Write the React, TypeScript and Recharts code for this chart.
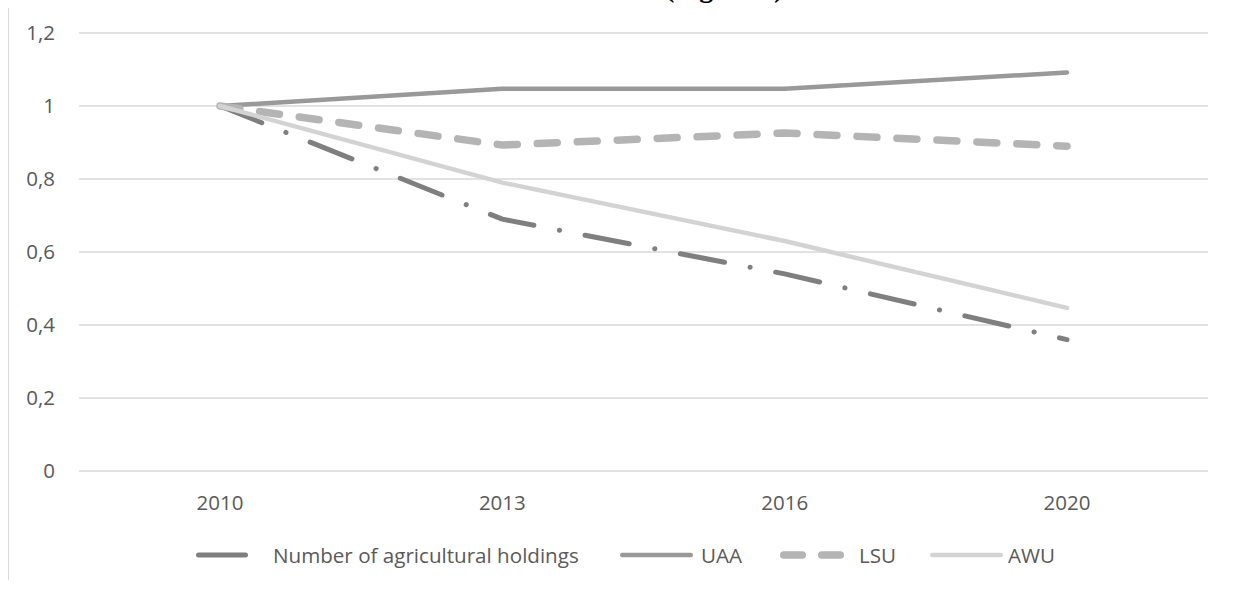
import React from 'react';
import { LineChart, Line, XAxis, YAxis, CartesianGrid, Legend } from 'recharts';

// Indices, 2010 = 1
const years = ['2010', '2013', '2016', '2020'];
const holdings = [1, 0.69, 0.54, 0.36];
const uaa = [1, 1.047, 1.047, 1.092];
const lsu = [1, 0.893, 0.926, 0.89];
const awu = [1, 0.79, 0.63, 0.447];
const yTicks = [0, 0.2, 0.4, 0.6, 0.8, 1, 1.2];

const data = years.map((year, i) => ({
  year,
  holdings: holdings[i],
  uaa: uaa[i],
  lsu: lsu[i],
  awu: awu[i],
}));

const FONT = '"Open Sans", Lato, sans-serif';
const TEXT = '#595959';

// line styles + where each legend entry sits (chart coords)
const SERIES = [
  { key: 'holdings', name: 'Number of agricultural holdings', color: '#7f7f7f', width: 5, dash: '45 26 0.1 26', iconDash: undefined, iconLeft: 187, iconLen: 52, textLeft: 264 },
  { key: 'uaa', name: 'UAA', color: '#999999', width: 4.5, dash: undefined, iconDash: undefined, iconLeft: 611, iconLen: 73, textLeft: 692 },
  { key: 'lsu', name: 'LSU', color: '#b4b4b4', width: 7.5, dash: '20 20', iconDash: '18.5 19.5', iconLeft: 771, iconLen: 65, textLeft: 850 },
  { key: 'awu', name: 'AWU', color: '#d3d3d3', width: 4.5, dash: undefined, iconDash: undefined, iconLeft: 921, iconLen: 73, textLeft: 999 },
];

const fmt = (v: number) => String(v).replace('.', ',');

const renderLegend = () => (
  <div style={{ position: 'relative', width: '100%', height: 28, fontFamily: FONT, fontSize: 20.6, color: TEXT }}>
    {SERIES.map((s) => (
      <React.Fragment key={s.key}>
        <svg
          width={s.iconLen}
          height={28}
          style={{ position: 'absolute', left: s.iconLeft, top: 0 }}
        >
          <line
            x1={s.width / 2}
            x2={s.iconLen - s.width / 2}
            y1={14}
            y2={14}
            stroke={s.color}
            strokeWidth={s.width}
            strokeLinecap="round"
            strokeDasharray={s.iconDash}
          />
        </svg>
        <span style={{ position: 'absolute', left: s.textLeft, top: 0, lineHeight: '28px', whiteSpace: 'nowrap' }}>
          {s.name}
        </span>
      </React.Fragment>
    ))}
  </div>
);

export default function App() {
  return (
    <>
      <div
        style={{
          position: 'absolute',
          left: 665,
          top: -26,
          fontFamily: '"Liberation Serif", serif',
          fontWeight: 'bold',
          fontSize: 28,
          lineHeight: 1,
          whiteSpace: 'nowrap',
          color: '#000',
        }}
      >
        (Figure 1)
      </div>
      <div style={{ position: 'relative', marginTop: -3, width: 1217, height: 575, overflow: 'hidden' }}>
        <div style={{ width: 1240, height: 600, borderTop: '1px solid #d9d9d9', borderLeft: '1px solid #d9d9d9', background: '#fff' }}>
          <LineChart width={1240} height={600} data={data} margin={{ top: 27, right: 41, left: 0, bottom: 105 }}>
            <CartesianGrid vertical={false} stroke="#d9d9d9" strokeWidth={1.5} />
            <XAxis
              dataKey="year"
              padding={{ left: 141, right: 141 }}
              axisLine={false}
              tickLine={false}
              tickSize={0}
              tickMargin={24}
              height={30}
              interval={0}
              tick={{ fill: TEXT, fontSize: 20.5, fontFamily: FONT }}
            />
            <YAxis
              domain={[0, 1.2]}
              ticks={yTicks}
              tickFormatter={fmt}
              axisLine={false}
              tickLine={false}
              tickSize={0}
              tickMargin={24}
              width={70}
              tick={{ fill: TEXT, fontSize: 20.5, fontFamily: FONT }}
            />
            <Legend
              layout="horizontal"
              verticalAlign="middle"
              align="center"
              content={renderLegend}
              wrapperStyle={{ top: 535, left: 0, width: 1240, height: 28 }}
            />
            {SERIES.map((s) => (
              <Line
                key={s.key}
                type="linear"
                dataKey={s.key}
                name={s.name}
                stroke={s.color}
                strokeWidth={s.width}
                strokeDasharray={s.dash}
                strokeLinecap="round"
                strokeLinejoin="round"
                dot={false}
                activeDot={false}
                isAnimationActive={false}
              />
            ))}
          </LineChart>
        </div>
      </div>
    </>
  );
}
